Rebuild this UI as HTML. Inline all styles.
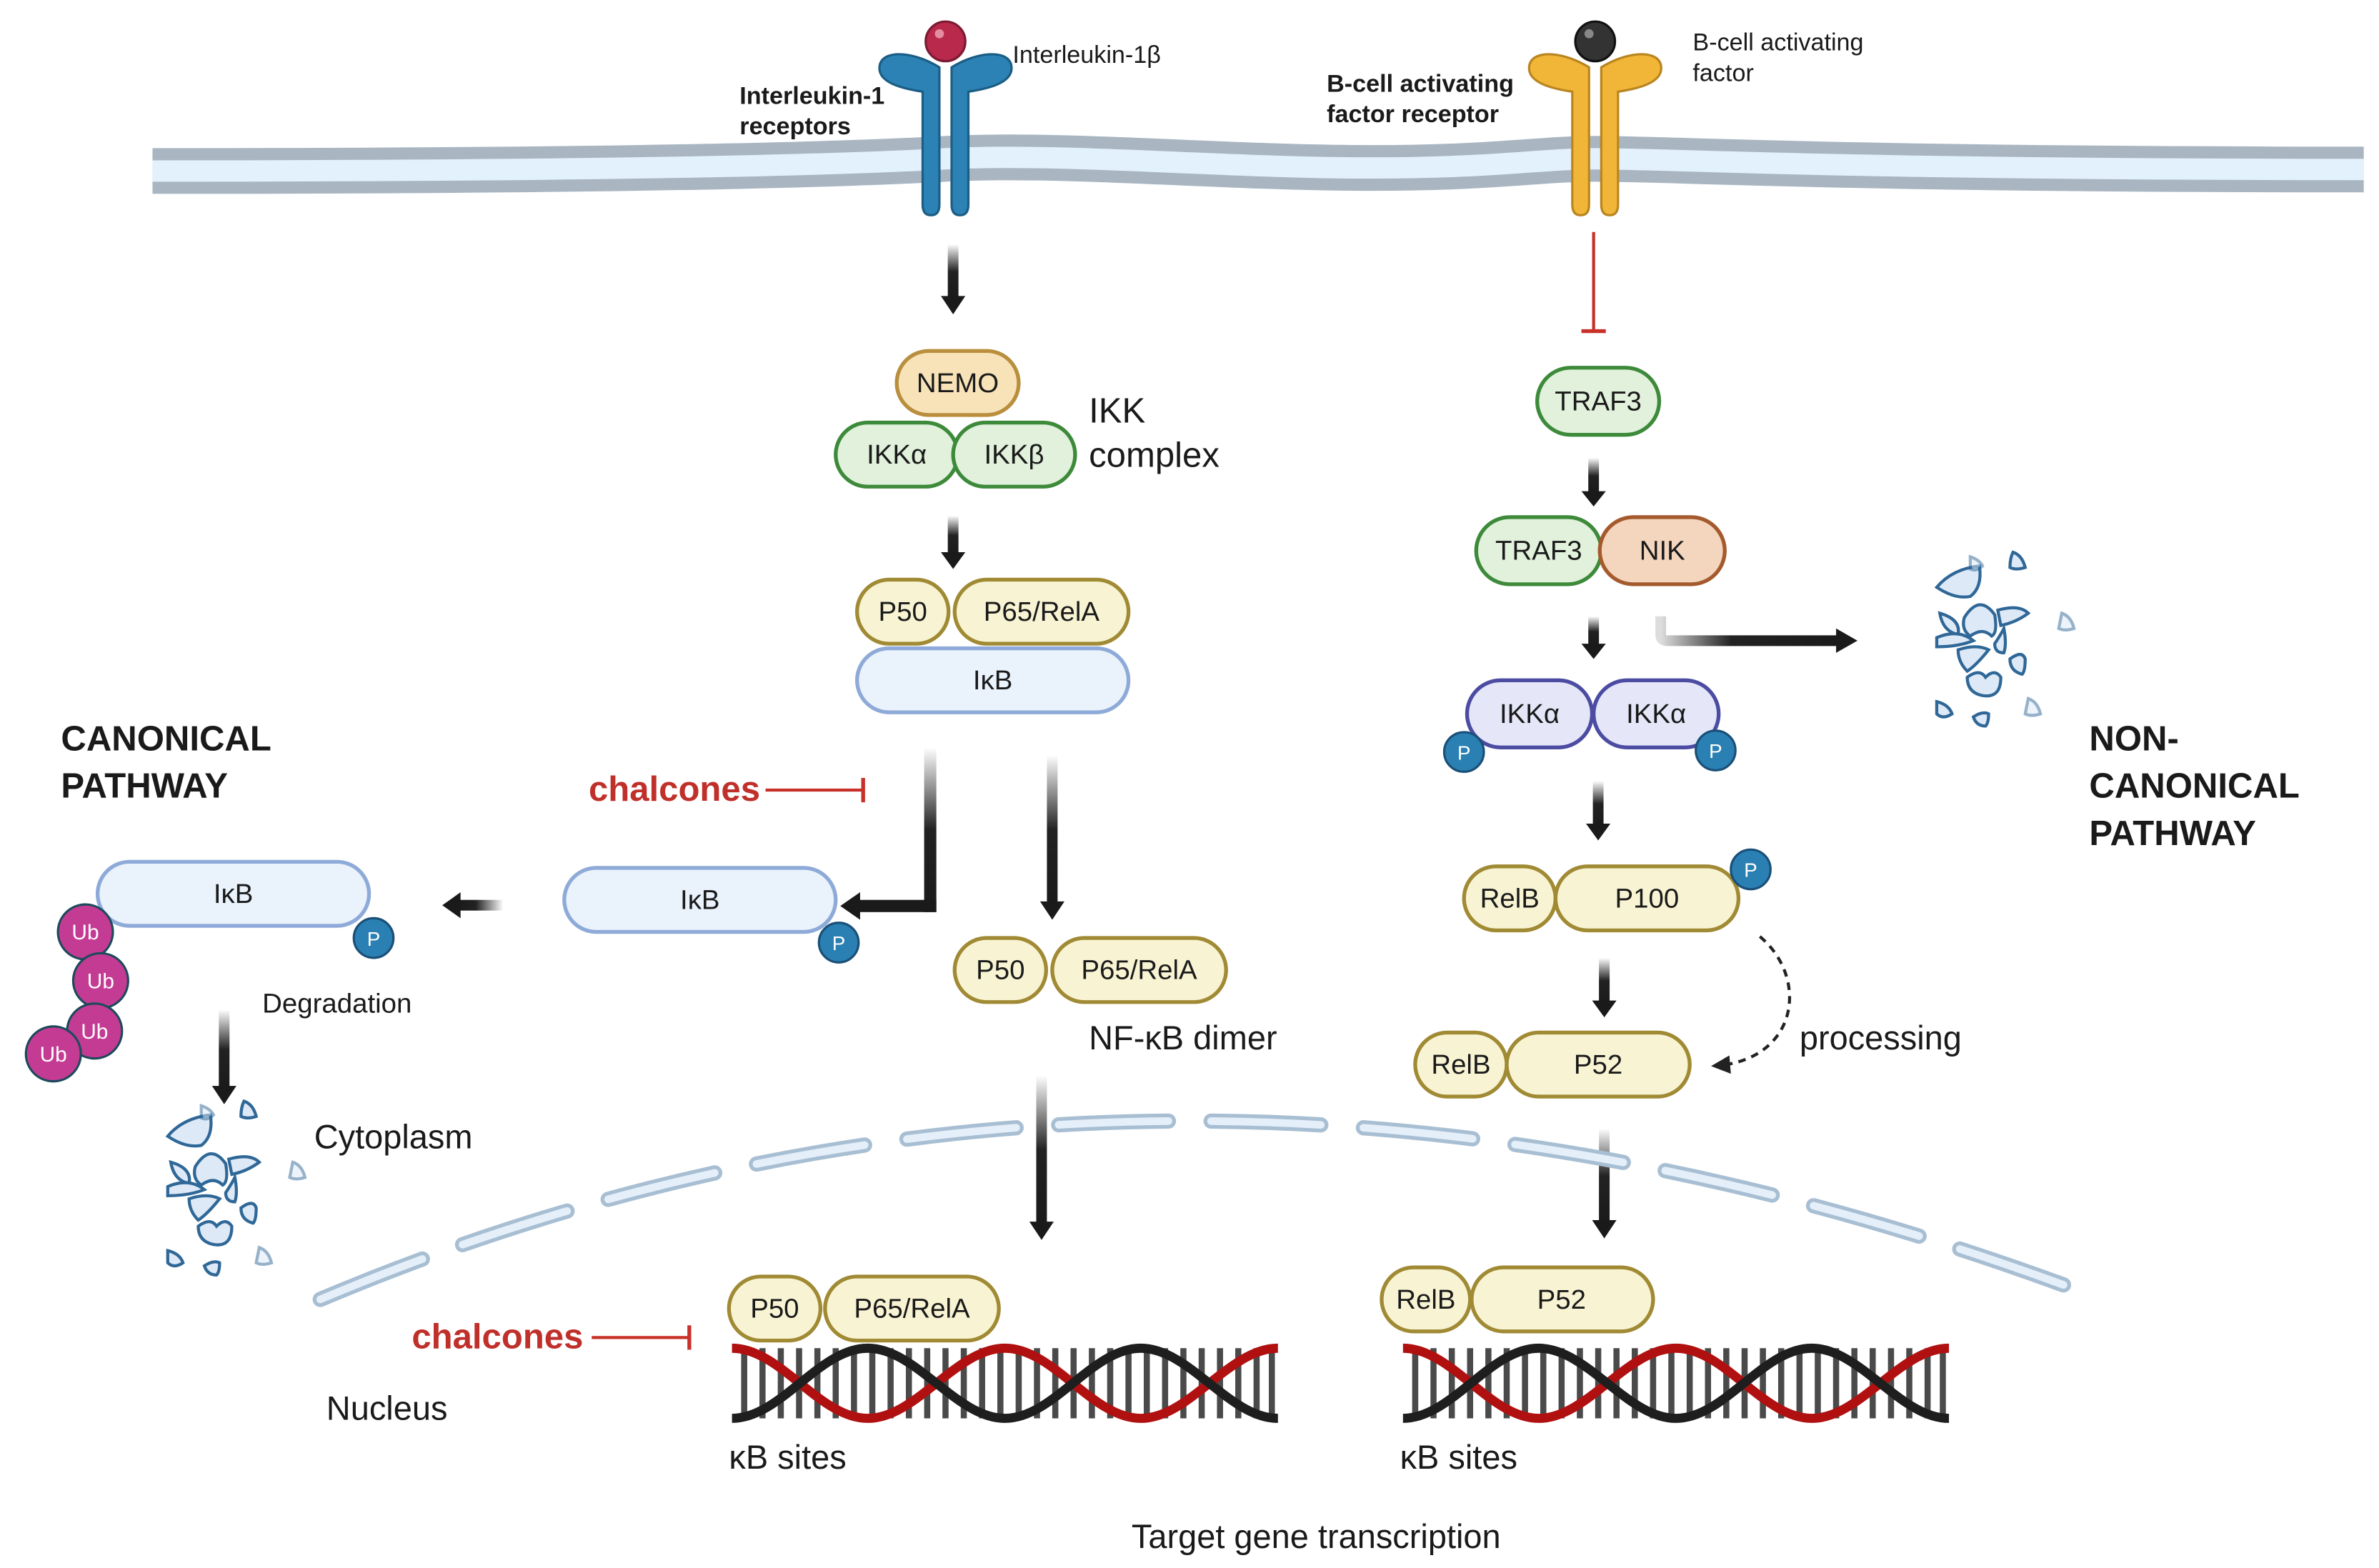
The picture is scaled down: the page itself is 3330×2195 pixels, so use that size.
<!DOCTYPE html>
<html><head><meta charset="utf-8"><style>
html,body{margin:0;padding:0;background:#fff}
svg{display:block}
text{font-family:"Liberation Sans",sans-serif;fill:#1a1a1a}
</style></head><body>
<svg width="3330" height="2195" viewBox="0 0 1560 1028" xmlns="http://www.w3.org/2000/svg">
<defs>
<linearGradient id="gv" x1="0" y1="0" x2="0" y2="1"><stop offset="0" stop-color="#fff"/><stop offset="0.5" stop-color="#222"/><stop offset="1" stop-color="#1a1a1a"/></linearGradient>
<linearGradient id="gh" x1="0" y1="0" x2="1" y2="0"><stop offset="0" stop-color="#ddd"/><stop offset="0.4" stop-color="#222"/><stop offset="1" stop-color="#1a1a1a"/></linearGradient>
<linearGradient id="ghl" x1="1" y1="0" x2="0" y2="0"><stop offset="0" stop-color="#fff"/><stop offset="0.6" stop-color="#222"/><stop offset="1" stop-color="#1a1a1a"/></linearGradient>
<g id="frag" stroke="#2f6797" stroke-width="2" fill="#dde9f7">
<path d="M-30,-25 q10,-12 28,-14 q2,14 -6,20 q-10,2 -22,-6z"/>
<path d="M-12,-5 q10,-16 20,-2 q2,12 -2,14 q-6,-6 -14,0 q-6,-4 -4,-12z"/>
<path d="M-28,-8 q2,12 12,14 q2,-10 -12,-14z"/>
<path d="M10,-10 q14,-4 20,2 q-8,6 -18,8z"/>
<path d="M-30,8 q14,-6 24,2 q-10,4 -24,4z"/>
<path d="M-16,16 q12,-4 20,0 q-8,10 -14,14 q-6,-6 -6,-14z"/>
<path d="M8,12 q4,-6 6,-10 q2,10 0,16 q-6,0 -6,-6z"/>
<path d="M-10,34 q8,-6 12,0 q6,-6 10,0 q0,14 -12,12 q-10,-2 -10,-12z"/>
<path d="M18,22 q8,-6 10,0 q0,8 -2,10 q-8,-2 -8,-10z"/>
<path d="M-30,50 q8,2 10,8 q-6,4 -10,0z"/>
<path d="M-6,60 q6,-4 10,-2 q0,6 -2,8 q-6,0 -8,-6z"/>
<path d="M20,-48 q6,2 8,10 q-6,2 -10,0 q0,-6 2,-10z"/>
<path d="M-8,-45 q6,2 8,6 q-4,4 -8,2 q0,-4 0,-8z" opacity="0.5"/>
<path d="M52,-8 q6,2 8,10 q-6,2 -10,0z" opacity="0.5"/>
<path d="M30,48 q6,2 8,10 q-6,2 -10,0z" opacity="0.5"/>
</g>
</defs>

<!-- membrane -->
<path d="M100,112 C400,112 550,108 620,104 C700,100 800,110 900,110 C980,110 1010,104 1046,104 C1100,104 1200,111 1550,111" stroke="#a9b6c2" stroke-width="30" fill="none"/>
<path d="M100,112 C400,112 550,108 620,104 C700,100 800,110 900,110 C980,110 1010,104 1046,104 C1100,104 1200,111 1550,111" stroke="#e3f1fd" stroke-width="14" fill="none"/>

<!-- IL-1 receptor -->
<g fill="#2c82b4" stroke="#1a5d85" stroke-width="1.5">
<path d="M616,44 C600,34 580,32 577,42 C574,54 592,58 605,60 L605,134 q0,7 5.5,7 q5.5,0 5.5,-7 V50z"/>
<path d="M624,44 C640,34 660,32 663,42 C666,54 648,58 635,60 L635,134 q0,7 -5.5,7 q-5.5,0 -5.5,-7 V50z"/>
</g>
<circle cx="620" cy="27" r="16" fill="#fff"/>
<circle cx="620" cy="27" r="13" fill="#b8294b" stroke="#7c1a33" stroke-width="1.5"/>
<circle cx="616" cy="22" r="3" fill="#e48ca0"/>
<text x="664" y="41" font-size="16">Interleukin-1β</text>
<text x="485" y="68" font-size="16" font-weight="bold">Interleukin-1</text>
<text x="485" y="88" font-size="16" font-weight="bold">receptors</text>

<!-- BAFF receptor -->
<g fill="#f1b638" stroke="#b98520" stroke-width="1.5">
<path d="M1042,44 C1026,34 1006,32 1003,42 C1000,54 1018,58 1031,60 L1031,134 q0,7 5.5,7 q5.5,0 5.5,-7 V50z"/>
<path d="M1050,44 C1066,34 1086,32 1089,42 C1092,54 1074,58 1061,60 L1061,134 q0,7 -5.5,7 q-5.5,0 -5.5,-7 V50z"/>
</g>
<circle cx="1046" cy="27" r="16" fill="#fff"/>
<circle cx="1046" cy="27" r="13" fill="#333" stroke="#111" stroke-width="1.5"/>
<circle cx="1042" cy="22" r="3" fill="#888"/>
<text x="1110" y="33" font-size="16">B-cell activating</text>
<text x="1110" y="53" font-size="16">factor</text>
<text x="870" y="60" font-size="16" font-weight="bold">B-cell activating</text>
<text x="870" y="80" font-size="16" font-weight="bold">factor receptor</text>

<!-- red inhibit line -->
<line x1="1045" y1="152" x2="1045" y2="217" stroke="#c8302a" stroke-width="2"/>
<line x1="1037" y1="217" x2="1053" y2="217" stroke="#c8302a" stroke-width="2.5"/>

<!-- vertical arrows -->
<g>
<rect x="621.5" y="160" width="7" height="36" fill="url(#gv)"/><path d="M617,194 h16 l-8,12z" fill="#1a1a1a"/>
<rect x="621.5" y="338" width="7" height="26" fill="url(#gv)"/><path d="M617,362 h16 l-8,11z" fill="#1a1a1a"/>
<rect x="1041.5" y="300" width="7" height="24" fill="url(#gv)"/><path d="M1037,322 h16 l-8,10z" fill="#1a1a1a"/>
<rect x="1041.5" y="404" width="7" height="20" fill="url(#gv)"/><path d="M1037,422 h16 l-8,10z" fill="#1a1a1a"/>
<rect x="1044.5" y="512" width="7" height="30" fill="url(#gv)"/><path d="M1040,540 h16 l-8,11z" fill="#1a1a1a"/>
<rect x="1048.5" y="628" width="7" height="30" fill="url(#gv)"/><path d="M1044,656 h16 l-8,11z" fill="#1a1a1a"/>
<rect x="1048.5" y="740" width="7" height="62" fill="url(#gv)"/><path d="M1044,800 h16 l-8,12z" fill="#1a1a1a"/>
<rect x="679.5" y="705" width="7" height="98" fill="url(#gv)"/><path d="M675,801 h16 l-8,12z" fill="#1a1a1a"/>
<rect x="686.5" y="495" width="7" height="98" fill="url(#gv)"/><path d="M682,591 h16 l-8,12z" fill="#1a1a1a"/>
<rect x="143.5" y="662" width="7" height="52" fill="url(#gv)"/><path d="M139,712 h16 l-8,12z" fill="#1a1a1a"/>
</g>
<rect x="606" y="490" width="8" height="108" fill="url(#gv)"/>
<rect x="562" y="590" width="52" height="8" fill="#1a1a1a"/>
<path d="M564,585 v18 l-13,-9z" fill="#1a1a1a"/>
<rect x="300" y="590" width="30" height="7" fill="url(#ghl)"/><path d="M302,585 v17 l-12,-8.5z" fill="#1a1a1a"/>
<path d="M1089,404 v12 q0,4 4,4 h112" stroke="url(#gh)" stroke-width="7" fill="none"/>
<path d="M1204,412 v16 l14,-8z" fill="#1a1a1a"/>

<!-- pills -->
<g stroke-width="2.5" font-size="18" text-anchor="middle">
<rect x="588" y="230" width="80" height="42" rx="21" fill="#f8e3b9" stroke="#b98f3e"/><text x="628" y="257">NEMO</text>
<rect x="548" y="277" width="80" height="42" rx="21" fill="#e1f1db" stroke="#3d8a3a"/><text x="588" y="304">IKKα</text>
<rect x="625" y="277" width="80" height="42" rx="21" fill="#e1f1db" stroke="#3d8a3a"/><text x="665" y="304">IKKβ</text>
<rect x="562" y="380" width="60" height="42" rx="21" fill="#f8f4d3" stroke="#a08a34"/><text x="592" y="407">P50</text>
<rect x="626" y="380" width="114" height="42" rx="21" fill="#f8f4d3" stroke="#a08a34"/><text x="683" y="407">P65/RelA</text>
<rect x="562" y="425" width="178" height="42" rx="21" fill="#eaf2fc" stroke="#8eaad8"/><text x="651" y="452">IκB</text>

<rect x="370" y="569" width="178" height="42" rx="21" fill="#eaf2fc" stroke="#8eaad8"/><text x="459" y="596">IκB</text>
<rect x="64" y="565" width="178" height="42" rx="21" fill="#eaf2fc" stroke="#8eaad8"/><text x="153" y="592">IκB</text>

<rect x="626" y="615" width="60" height="42" rx="21" fill="#f8f4d3" stroke="#a08a34"/><text x="656" y="642">P50</text>
<rect x="690" y="615" width="114" height="42" rx="21" fill="#f8f4d3" stroke="#a08a34"/><text x="747" y="642">P65/RelA</text>

<rect x="1008" y="241" width="80" height="44" rx="22" fill="#e1f1db" stroke="#3d8a3a"/><text x="1048" y="269">TRAF3</text>
<rect x="968" y="339" width="82" height="44" rx="22" fill="#e1f1db" stroke="#3d8a3a"/><text x="1009" y="367">TRAF3</text>
<rect x="1049" y="339" width="82" height="44" rx="22" fill="#f3d6bd" stroke="#a55a2e"/><text x="1090" y="367">NIK</text>
<rect x="962" y="446" width="82" height="44" rx="22" fill="#e5e7f9" stroke="#4b4ca2"/><text x="1003" y="474">IKKα</text>
<rect x="1045" y="446" width="82" height="44" rx="22" fill="#e5e7f9" stroke="#4b4ca2"/><text x="1086" y="474">IKKα</text>

<rect x="960" y="568" width="60" height="42" rx="21" fill="#f8f4d3" stroke="#a08a34"/><text x="990" y="595">RelB</text>
<rect x="1020" y="568" width="120" height="42" rx="21" fill="#f8f4d3" stroke="#a08a34"/><text x="1080" y="595">P100</text>
<rect x="928" y="677" width="60" height="42" rx="21" fill="#f8f4d3" stroke="#a08a34"/><text x="958" y="704">RelB</text>
<rect x="988" y="677" width="120" height="42" rx="21" fill="#f8f4d3" stroke="#a08a34"/><text x="1048" y="704">P52</text>

<rect x="478" y="837" width="60" height="42" rx="21" fill="#f8f4d3" stroke="#a08a34"/><text x="508" y="864">P50</text>
<rect x="541" y="837" width="114" height="42" rx="21" fill="#f8f4d3" stroke="#a08a34"/><text x="598" y="864">P65/RelA</text>
<rect x="906" y="831" width="58" height="42" rx="21" fill="#f8f4d3" stroke="#a08a34"/><text x="935" y="858">RelB</text>
<rect x="965" y="831" width="119" height="42" rx="21" fill="#f8f4d3" stroke="#a08a34"/><text x="1024" y="858">P52</text>
</g>

<g font-size="13" text-anchor="middle">
<circle cx="245" cy="615" r="13" fill="#2a80b2" stroke="#1a4f78" stroke-width="1.5"/><text x="245" y="620" style="fill:#fff">P</text>
<circle cx="550" cy="618" r="13" fill="#2a80b2" stroke="#1a4f78" stroke-width="1.5"/><text x="550" y="623" style="fill:#fff">P</text>
<circle cx="960" cy="493" r="13" fill="#2a80b2" stroke="#1a4f78" stroke-width="1.5"/><text x="960" y="498" style="fill:#fff">P</text>
<circle cx="1125" cy="492" r="13" fill="#2a80b2" stroke="#1a4f78" stroke-width="1.5"/><text x="1125" y="497" style="fill:#fff">P</text>
<circle cx="1148" cy="570" r="13" fill="#2a80b2" stroke="#1a4f78" stroke-width="1.5"/><text x="1148" y="575" style="fill:#fff">P</text>
</g>
<g stroke="#1d4a5a" stroke-width="1.5">
<circle cx="56" cy="611" r="18" fill="#c43b94"/>
<circle cx="66" cy="643" r="18" fill="#c43b94"/>
<circle cx="62" cy="676" r="18" fill="#c43b94"/>
<circle cx="35" cy="691" r="18" fill="#c43b94"/>
</g>
<g font-size="14" text-anchor="middle">
<text x="56" y="616" style="fill:#fff">Ub</text><text x="66" y="648" style="fill:#fff">Ub</text>
<text x="62" y="681" style="fill:#fff">Ub</text><text x="35" y="696" style="fill:#fff">Ub</text>
</g>

<use href="#frag" x="1300" y="410"/>
<use href="#frag" x="140" y="770"/>

<path d="M210,852 Q760,620 1368,848" stroke="#a8bfd3" stroke-width="10" fill="none" stroke-dasharray="72 28" stroke-linecap="round"/>
<path d="M210,852 Q760,620 1368,848" stroke="#e5eff9" stroke-width="5" fill="none" stroke-dasharray="72 28" stroke-linecap="round"/>

<path d="M1154,614 C1185,640 1180,690 1132,698" stroke="#222" stroke-width="2" fill="none" stroke-dasharray="5 4"/>
<path d="M1134,692 l-12,7 l13,5z" fill="#222"/>

<text x="386" y="525" font-size="23" font-weight="bold" style="fill:#c0302a">chalcones</text>
<line x1="502" y1="518" x2="566" y2="518" stroke="#c8302a" stroke-width="2"/><line x1="566" y1="510" x2="566" y2="526" stroke="#c8302a" stroke-width="2.5"/>
<text x="270" y="884" font-size="23" font-weight="bold" style="fill:#c0302a">chalcones</text>
<line x1="388" y1="877" x2="452" y2="877" stroke="#c8302a" stroke-width="2"/><line x1="452" y1="869" x2="452" y2="885" stroke="#c8302a" stroke-width="2.5"/>

<g id="dna1">
<g stroke="#4a4a4a" stroke-width="4">
<path d="M488,884V930M500,884V930M512,884V930M524,884V930M536,884V930M548,884V930M560,884V930M572,884V930M584,884V930M596,884V930M608,884V930M620,884V930M632,884V930M644,884V930M656,884V930M668,884V930M680,884V930M692,884V930M704,884V930M716,884V930M728,884V930M740,884V930M752,884V930M764,884V930M776,884V930M788,884V930M800,884V930M812,884V930M824,884V930M834,884V930"/>
</g>
<path d="M480,884 C512,884 537,930 569,930 C601,930 627,884 659,884 C691,884 716,930 748,930 C780,930 806,884 838,884" stroke="#b01010" stroke-width="6" fill="none"/>
<path d="M480,930 C512,930 537,884 569,884 C601,884 627,930 659,930 C691,930 716,884 748,884 C780,884 806,930 838,930" stroke="#1e1e1e" stroke-width="6" fill="none"/>
</g>
<use href="#dna1" x="440" y="0"/>

<text x="714" y="277" font-size="23">IKK</text>
<text x="714" y="306" font-size="23">complex</text>
<text x="40" y="492" font-size="23" font-weight="bold">CANONICAL</text>
<text x="40" y="523" font-size="23" font-weight="bold">PATHWAY</text>
<text x="1370" y="492" font-size="23" font-weight="bold">NON-</text>
<text x="1370" y="523" font-size="23" font-weight="bold">CANONICAL</text>
<text x="1370" y="554" font-size="23" font-weight="bold">PATHWAY</text>
<text x="172" y="664" font-size="18">Degradation</text>
<text x="206" y="753" font-size="22">Cytoplasm</text>
<text x="714" y="688" font-size="22">NF-κB dimer</text>
<text x="1180" y="688" font-size="22">processing</text>
<text x="214" y="931" font-size="22">Nucleus</text>
<text x="478" y="963" font-size="22">κB sites</text>
<text x="918" y="963" font-size="22">κB sites</text>
<text x="742" y="1015" font-size="22">Target gene transcription</text>
</svg>
</body></html>
